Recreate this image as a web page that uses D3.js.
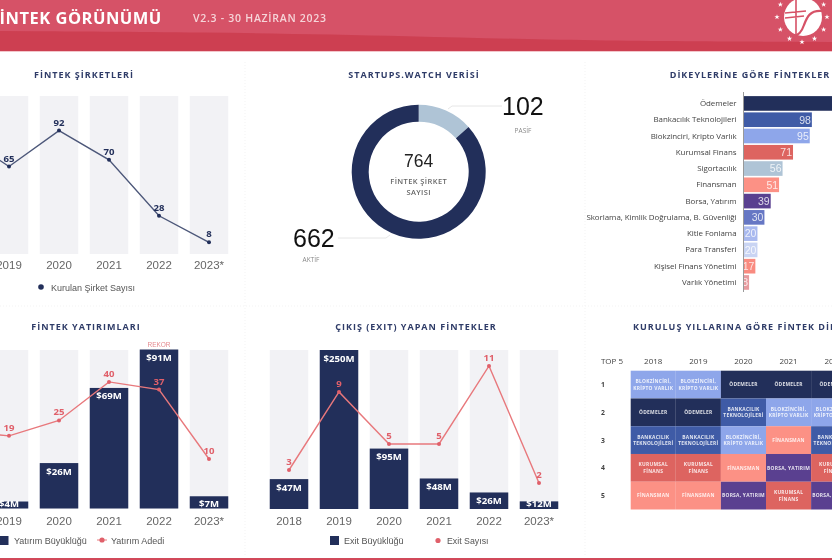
<!DOCTYPE html>
<html>
<head>
<meta charset="utf-8">
<script src="https://cdn.jsdelivr.net/npm/d3@7"></script>
<style>
html, body { margin: 0; padding: 0; background: #fff; overflow: hidden; }
svg { display: block; filter: blur(0.4px); }
text { font-family: "Open Sans", sans-serif; }
.sans { font-family: "Liberation Sans", sans-serif; }
</style>
</head>
<body>
<div id="chart"></div>
<script>
// values (2018 column and the first vertical are cropped, so estimated)
var years = ["2018", "2019", "2020", "2021", "2022", "2023*"];
var companies = [90, 65, 92, 70, 28, 8];
var investSize = [null, 4, 26, 69, 91, 7];
var investCount = [21, 19, 25, 40, 37, 10];
var exitSize = [47, 250, 95, 48, 26, 12];
var exitCount = [3, 9, 5, 5, 11, 2];

var statusNames = ["PASİF", "AKTİF"];
var statusValues = [102, 662];

var verticals = ["Ödemeler", "Bankacılık Teknolojileri", "Blokzinciri, Kripto Varlık", "Kurumsal Finans",
  "Sigortacılık", "Finansman", "Borsa, Yatırım", "Skorlama, Kimlik Doğrulama, B. Güvenliği",
  "Kitle Fonlama", "Para Transferi", "Kişisel Finans Yönetimi", "Varlık Yönetimi"];
var verticalValues = [157, 98, 95, 71, 56, 51, 39, 30, 20, 20, 17, 8];

var topYears = ["2018", "2019", "2020", "2021", "2022"];
var topRanks = ["1", "2", "3", "4", "5"];
var top2018 = ["BLOKZİNCİRİ,|KRİPTO VARLIK", "ÖDEMELER", "BANKACILIK|TEKNOLOJİLERİ", "KURUMSAL|FİNANS", "FİNANSMAN"];
var top2019 = ["BLOKZİNCİRİ,|KRİPTO VARLIK", "ÖDEMELER", "BANKACILIK|TEKNOLOJİLERİ", "KURUMSAL|FİNANS", "FİNANSMAN"];
var top2020 = ["ÖDEMELER", "BANKACILIK|TEKNOLOJİLERİ", "BLOKZİNCİRİ,|KRİPTO VARLIK", "FİNANSMAN", "BORSA, YATIRIM"];
var top2021 = ["ÖDEMELER", "BLOKZİNCİRİ,|KRİPTO VARLIK", "FİNANSMAN", "BORSA, YATIRIM", "KURUMSAL|FİNANS"];
var top2022 = ["ÖDEMELER", "BLOKZİNCİRİ,|KRİPTO VARLIK", "BANKACILIK|TEKNOLOJİLERİ", "KURUMSAL|FİNANS", "BORSA, YATIRIM"];
var topColumns = [top2018, top2019, top2020, top2021, top2022];

var navy = "#222f5a", red = "#e0606a", lineRed = "#e8787c", grey = "#f2f2f5", titleCol = "#2f3c68";

var svg = d3.select("#chart").append("svg").attr("width", 832).attr("height", 560);

// header
svg.append("rect").attr("width", 832).attr("height", 51).attr("fill", "#d65267");
var wave = d3.area().curve(d3.curveBasis).x(function(d) { return d[0]; }).y0(51).y1(function(d) { return d[1]; });
svg.append("path").attr("d", wave([[0, 31], [200, 32], [416, 36], [580, 41], [832, 42]])).attr("fill", "#cd3f51");
svg.append("rect").attr("y", 51).attr("width", 832).attr("height", 1).attr("fill", "#f3c6cb");
svg.append("rect").attr("y", 558).attr("width", 832).attr("height", 2).attr("fill", "#d2495a");
svg.append("text").attr("x", -10).attr("y", 24).attr("fill", "#fff").attr("font-size", 16.5)
  .attr("font-weight", 700).attr("letter-spacing", 0.5).text("FİNTEK GÖRÜNÜMÜ");
svg.append("text").attr("x", 193).attr("y", 22).attr("fill", "#f6d5d9").attr("font-size", 10.5)
  .attr("font-weight", 600).attr("letter-spacing", 0.73).text("V2.3 - 30 HAZİRAN 2023");

// logo
var logo = svg.append("g").attr("transform", "translate(802,17)");
logo.append("circle").attr("cx", 1).attr("r", 19).attr("fill", "#fff");
logo.selectAll("path.star").data(d3.range(12)).enter().append("path").attr("class", "star")
  .attr("d", d3.symbol().type(d3.symbolStar).size(9))
  .attr("fill", "#fff")
  .attr("transform", function(d) {
    var a = d / 12 * 2 * Math.PI;
    return "translate(" + (25 * Math.sin(a)) + "," + (-25 * Math.cos(a)) + ")";
  });
logo.append("path").attr("d", "M20,-6C8,-7 5,0 2,8C0,14 -4,19 -9,19").attr("fill", "none").attr("stroke", "#d65267").attr("stroke-width", 2.2);
logo.append("path").attr("d", "M-6,-18L-6,18M-17,-4L4,-6M-17,1L2,-1").attr("fill", "none").attr("stroke", "#d65267").attr("stroke-width", 1.6);

// faint panel separators
[[245, 62, 245, 556], [585, 62, 585, 556], [0, 306, 832, 306]].forEach(function(s) {
  svg.append("line").attr("x1", s[0]).attr("y1", s[1]).attr("x2", s[2]).attr("y2", s[3])
    .attr("stroke", "#f3f3f3").attr("stroke-dasharray", "1,2");
});

function title(txt, x, y, anchor) {
  svg.append("text").attr("x", x).attr("y", y).attr("text-anchor", anchor || "middle").attr("fill", titleCol)
    .attr("font-size", 9).attr("font-weight", 700).attr("letter-spacing", 1).text(txt);
}
title("FİNTEK ŞİRKETLERİ", 84, 78);
title("STARTUPS.WATCH VERİSİ", 414, 78);
title("DİKEYLERİNE GÖRE FİNTEKLER", 750, 78);
title("FİNTEK YATIRIMLARI", 86, 330);
title("ÇIKIŞ (EXIT) YAPAN FİNTEKLER", 416, 330);
title("KURULUŞ YILLARINA GÖRE FİNTEK DİKEYLERİ", 633, 330, "start");

function band(r0, r1) {
  return d3.scaleBand().domain(years).range([r0, r1]).paddingInner(0.23).paddingOuter(0.115);
}

function yearAxis(x, y) {
  var g = svg.append("g").attr("transform", "translate(0," + y + ")")
    .call(d3.axisBottom(x).tickSize(0).tickPadding(0));
  g.select(".domain").remove();
  g.selectAll("text").attr("class", "sans").attr("font-size", 11.5).attr("fill", "#666");
}

function greyBars(x, top, bottom) {
  svg.append("g").selectAll("rect").data(years).enter().append("rect")
    .attr("x", function(d) { return x(d); }).attr("y", top)
    .attr("width", x.bandwidth()).attr("height", bottom - top).attr("fill", grey);
}

function sizeBars(x, y, values, bottom) {
  var rows = years.map(function(d, i) { return { year: d, v: values[i] }; })
    .filter(function(d) { return d.v !== null; });
  var g = svg.append("g");
  g.selectAll("rect").data(rows).enter().append("rect")
    .attr("x", function(d) { return x(d.year); }).attr("y", function(d) { return y(d.v); })
    .attr("width", x.bandwidth()).attr("height", function(d) { return bottom - y(d.v); }).attr("fill", navy);
  g.selectAll("text").data(rows).enter().append("text")
    .attr("x", function(d) { return x(d.year) + x.bandwidth() / 2; })
    .attr("y", function(d) { return Math.min(y(d.v) + 11.5, 507); })
    .attr("text-anchor", "middle").attr("fill", "#fff").attr("font-size", 9.6).attr("font-weight", 700)
    .text(function(d) { return "$" + d.v + "M"; });
}

function countLine(x, y, values, col, dot, r) {
  var cx = function(d, i) { return x(years[i]) + x.bandwidth() / 2; };
  var g = svg.append("g");
  g.append("path").attr("d", d3.line().x(cx).y(function(d) { return y(d); })(values))
    .attr("fill", "none").attr("stroke", col).attr("stroke-width", 1.4);
  g.selectAll("circle").data(values).enter().append("circle")
    .attr("cx", cx).attr("cy", function(d) { return y(d); }).attr("r", r).attr("fill", dot);
  g.selectAll("text").data(values).enter().append("text")
    .attr("x", cx).attr("y", function(d) { return y(d) - 5; })
    .attr("text-anchor", "middle").attr("fill", dot).attr("font-size", 9.6).attr("font-weight", 700)
    .text(function(d) { return d; });
}

// fintek companies
var x1 = band(-66, 234);
greyBars(x1, 96, 254);
var y1 = d3.scaleLinear().domain([0, 118]).range([253, 96]);
countLine(x1, y1, companies, "#4c5779", navy, 2);
yearAxis(x1, 261);
svg.append("circle").attr("cx", 41).attr("cy", 287).attr("r", 2.8).attr("fill", navy);
svg.append("text").attr("class", "sans").attr("x", 51).attr("y", 290.5).attr("font-size", 9).attr("fill", "#555").text("Kurulan Şirket Sayısı");

// investments
var x2 = band(-66, 234);
greyBars(x2, 350, 508.5);
var y2 = d3.scaleLinear().domain([0, 91]).range([508.5, 349.5]);
sizeBars(x2, y2, investSize, 508.5);
var y2c = d3.scaleLinear().domain([-9.45, 52.4]).range([509, 350]);
countLine(x2, y2c, investCount, lineRed, red, 2);
yearAxis(x2, 517);
svg.append("text").attr("class", "sans").attr("x", x2("2022") + x2.bandwidth() / 2).attr("y", 346.5).attr("text-anchor", "middle")
  .attr("font-size", 6.5).attr("fill", "#e58a8f").text("REKOR");
svg.append("rect").attr("x", 0).attr("y", 536).attr("width", 8.5).attr("height", 9).attr("fill", navy);
svg.append("text").attr("class", "sans").attr("x", 14).attr("y", 543.5).attr("font-size", 9).attr("fill", "#555").text("Yatırım Büyüklüğü");
svg.append("line").attr("x1", 97).attr("x2", 107).attr("y1", 540).attr("y2", 540).attr("stroke", lineRed);
svg.append("circle").attr("cx", 102).attr("cy", 540).attr("r", 2.6).attr("fill", red);
svg.append("text").attr("class", "sans").attr("x", 111).attr("y", 543.5).attr("font-size", 9).attr("fill", "#555").text("Yatırım Adedi");

// exits
var x3 = band(264, 564);
greyBars(x3, 350, 509);
var y3 = d3.scaleLinear().domain([0, 250]).range([509, 350]);
sizeBars(x3, y3, exitSize, 509);
var y3c = d3.scaleLinear().domain([0, 12.23]).range([509, 350]);
countLine(x3, y3c, exitCount, lineRed, red, 2);
yearAxis(x3, 517);
svg.append("rect").attr("x", 330).attr("y", 536).attr("width", 9).attr("height", 9).attr("fill", navy);
svg.append("text").attr("class", "sans").attr("x", 344).attr("y", 543.5).attr("font-size", 9).attr("fill", "#555").text("Exit Büyüklüğü");
svg.append("circle").attr("cx", 438).attr("cy", 540.5).attr("r", 2.6).attr("fill", red);
svg.append("text").attr("class", "sans").attr("x", 447).attr("y", 543.5).attr("font-size", 8.8).attr("fill", "#555").text("Exit Sayısı");

// donut
var donut = svg.append("g").attr("transform", "translate(418.7,171.7)");
var pie = d3.pie().sort(null)(statusValues);
var arc = d3.arc().innerRadius(50).outerRadius(67);
var pieCol = d3.scaleOrdinal(statusNames, ["#afc4d6", navy]);
donut.selectAll("path").data(pie).enter().append("path").attr("d", arc)
  .attr("fill", function(d, i) { return pieCol(statusNames[i]); });
donut.append("text").attr("class", "sans").attr("y", -5).attr("text-anchor", "middle").attr("font-size", 17.5).attr("fill", "#222")
  .text(d3.sum(statusValues));
donut.append("text").attr("y", 12).attr("text-anchor", "middle").attr("font-size", 7.5).attr("font-weight", 600).attr("letter-spacing", 0.4).attr("fill", "#666").text("FİNTEK ŞİRKET");
donut.append("text").attr("y", 23).attr("text-anchor", "middle").attr("font-size", 7.5).attr("font-weight", 600).attr("letter-spacing", 0.4).attr("fill", "#666").text("SAYISI");
svg.append("path").attr("d", "M448,109L452,106L502,106M338,238L386,238L390,235").attr("fill", "none").attr("stroke", "#e6e6e6");
svg.append("text").attr("class", "sans").attr("x", 502).attr("y", 115).attr("font-size", 25).attr("fill", "#111").text(statusValues[0]);
svg.append("text").attr("class", "sans").attr("x", 293).attr("y", 247).attr("font-size", 25).attr("fill", "#111").text(statusValues[1]);
svg.append("text").attr("x", 523).attr("y", 133).attr("text-anchor", "middle").attr("font-size", 6.5).attr("fill", "#888").text(statusNames[0]);
svg.append("text").attr("x", 311).attr("y", 262).attr("text-anchor", "middle").attr("font-size", 6.5).attr("fill", "#888").text(statusNames[1]);

// verticals
var xv = d3.scaleLinear().domain([0, 157]).range([743.5, 853]);
var yv = d3.scaleBand().domain(verticals).range([95.3, 290.6]).paddingInner(0.1).paddingOuter(0.05);
var vCol = d3.scaleOrdinal(verticals, ["#222f5a", "#3f5ba6", "#8ea6ea", "#dd6460", "#afc4d6", "#fc9185",
  "#5a4090", "#6677c4", "#a9b9ef", "#c9d4f3", "#f98b80", "#e79a9e"]);
var vRows = verticals.map(function(d, i) { return { name: d, v: verticalValues[i] }; });
var vg = svg.append("g");
vg.selectAll("rect").data(vRows).enter().append("rect")
  .attr("x", xv(0)).attr("y", function(d) { return yv(d.name); })
  .attr("width", function(d) { return xv(d.v) - xv(0); }).attr("height", yv.bandwidth())
  .attr("fill", function(d) { return vCol(d.name); });
vg.selectAll("text.val").data(vRows).enter().append("text").attr("class", "val sans")
  .attr("x", function(d) { return xv(d.v) - 1; }).attr("y", function(d) { return yv(d.name) + yv.bandwidth() / 2 + 3.8; })
  .attr("text-anchor", "end").attr("font-size", 10.5).attr("fill", "#fff").attr("fill-opacity", 0.8)
  .text(function(d) { return d.v; });
var yAxisV = vg.append("g").attr("transform", "translate(743.5,0)")
  .call(d3.axisLeft(yv).tickSize(0).tickPadding(7));
yAxisV.select(".domain").attr("stroke", "#999").attr("d", "M0,92V292");
yAxisV.selectAll("text").attr("font-size", 7.95).attr("fill", "#444").attr("letter-spacing", -0.05);

// top 5 table
var xh = d3.scaleBand().domain(topYears).range([630.7, 856.2]);
var yh = d3.scaleBand().domain(topRanks).range([370.7, 509.5]);
var hCol = d3.scaleOrdinal(
  ["ÖDEMELER", "BANKACILIK|TEKNOLOJİLERİ", "BLOKZİNCİRİ,|KRİPTO VARLIK", "KURUMSAL|FİNANS", "FİNANSMAN", "BORSA, YATIRIM"],
  ["#222f5a", "#3f5ba6", "#8ea6ea", "#dd6460", "#fc9185", "#5a4090"]);
var cells = [];
topYears.forEach(function(yr, c) {
  topRanks.forEach(function(rank, r) { cells.push({ year: yr, rank: rank, name: topColumns[c][r] }); });
});
var hg = svg.append("g");
hg.selectAll("rect").data(cells).enter().append("rect")
  .attr("x", function(d) { return xh(d.year); }).attr("y", function(d) { return yh(d.rank); })
  .attr("width", xh.bandwidth()).attr("height", yh.bandwidth())
  .attr("fill", function(d) { return hCol(d.name); });
var cellText = hg.selectAll("g.cell").data(cells).enter().append("g").attr("class", "cell")
  .attr("transform", function(d) {
    return "translate(" + (xh(d.year) + xh.bandwidth() / 2) + "," + (yh(d.rank) + yh.bandwidth() / 2) + ")";
  });
cellText.each(function(d) {
  var parts = d.name.split("|");
  d3.select(this).selectAll("text").data(parts).enter().append("text")
    .attr("text-anchor", "middle").attr("font-size", 4.9).attr("font-weight", 700).attr("letter-spacing", 0.25)
    .attr("fill", "#fff").attr("fill-opacity", 0.85)
    .attr("y", function(t, i) { return (i - (parts.length - 1) / 2) * 6.6 + 1.8; })
    .text(function(t) { return t; });
});
hg.selectAll("text.yr").data(topYears).enter().append("text").attr("class", "yr")
  .attr("x", function(d) { return xh(d) + xh.bandwidth() / 2; }).attr("y", 364)
  .attr("text-anchor", "middle").attr("font-size", 8).attr("fill", "#444").text(function(d) { return d; });
hg.selectAll("text.rk").data(topRanks).enter().append("text").attr("class", "rk")
  .attr("x", 603).attr("y", function(d) { return yh(d) + yh.bandwidth() / 2 + 2.5; })
  .attr("text-anchor", "middle").attr("font-size", 6.8).attr("font-weight", 700).attr("fill", "#444").text(function(d) { return d; });
svg.append("text").attr("x", 612).attr("y", 364).attr("text-anchor", "middle").attr("font-size", 8).attr("fill", "#444").text("TOP 5");
</script>
</body>
</html>
